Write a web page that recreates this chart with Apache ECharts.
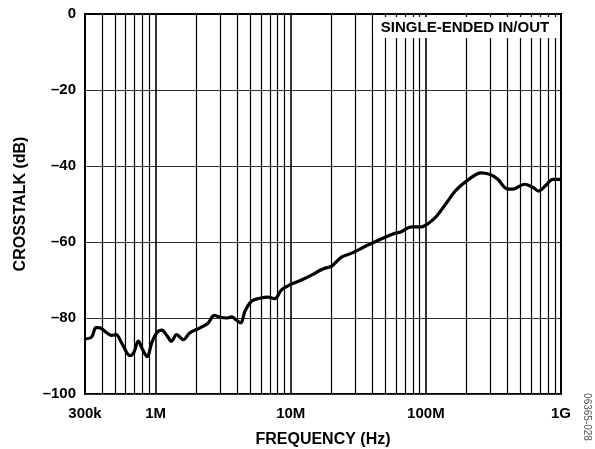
<!DOCTYPE html>
<html>
<head>
<meta charset="utf-8">
<script src="https://cdn.jsdelivr.net/npm/echarts@6/dist/echarts.min.js"></script>
<style>
html, body { margin: 0; padding: 0; background: #fff; }
#chart { width: 595px; height: 449px; }
</style>
</head>
<body>
<div id="chart"></div>
<script>
// frequency (Hz) and crosstalk (dB)
var freqs = [3.0e5, 3.36e5, 3.62e5, 3.88e5, 4.35e5, 4.73e5, 5.09e5, 5.61e5, 6.46e5, 6.91e5,
    7.44e5, 8.01e5, 8.67e5, 9.34e5, 1.02e6, 1.11e6, 1.21e6, 1.31e6, 1.43e6, 1.6e6,
    1.79e6, 2.13e6, 2.45e6, 2.71e6, 2.99e6, 3.35e6, 3.65e6, 3.97e6, 4.27e6, 4.57e6,
    5.12e6, 5.9e6, 6.8e6, 7.62e6, 8.54e6, 9.83e6, 1.165e7, 1.462e7, 1.638e7, 1.784e7,
    1.999e7, 2.37e7, 2.887e7, 3.627e7, 4.548e7, 5.704e7, 6.58e7, 7.8e7, 9.25e7, 1.035e8,
    1.194e8, 1.415e8, 1.678e8, 2.044e8, 2.567e8, 2.957e8, 3.406e8, 3.929e8, 4.397e8, 5.364e8,
    6.179e8, 6.843e8, 7.761e8, 8.683e8, 1.0e9];
var crosstalk = [-85.5, -85.0, -82.5, -82.6, -83.9, -84.6, -84.4, -86.6, -89.9, -89.0,
    -86.1, -88.3, -90.2, -86.6, -83.9, -83.2, -84.6, -86.1, -84.4, -85.7,
    -83.9, -82.6, -81.3, -79.3, -79.8, -80.0, -79.7, -80.6, -81.3, -78.3,
    -75.6, -74.8, -74.5, -74.9, -72.6, -71.3, -70.2, -68.5, -67.5, -66.9,
    -66.4, -64.0, -62.8, -61.0, -59.4, -57.9, -57.3, -56.0, -56.0, -55.2,
    -53.3, -49.8, -46.3, -43.7, -41.8, -42.2, -43.5, -45.9, -46.1, -44.8,
    -45.6, -46.6, -45.0, -43.5, -43.5];
var decades = [1e6, 1e7, 1e8];
var minorGrid = [4e5, 5e5, 6e5, 7e5, 8e5, 9e5,
    2e6, 3e6, 4e6, 5e6, 6e6, 7e6, 8e6, 9e6,
    2e7, 3e7, 4e7, 5e7, 6e7, 7e7, 8e7, 9e7,
    2e8, 3e8, 4e8, 5e8, 6e8, 7e8, 8e8, 9e8];
var xTickLabels = { 3e5: '300k', 1e6: '1M', 1e7: '10M', 1e8: '100M', 1e9: '1G' };

var chart = echarts.init(document.getElementById('chart'));
var font = 'Liberation Sans, Arial, sans-serif';

var gridLines = [];
minorGrid.forEach(function(f) {
    gridLines.push({ xAxis: f, lineStyle: { color: '#000', width: 1.2, type: 'solid' } });
});
decades.forEach(function(f) {
    gridLines.push({ xAxis: f, lineStyle: { color: '#000', width: 1.6, type: 'solid' } });
});

var option = {
    animation: false,
    grid: {
        left: 85, right: 34, top: 14, bottom: 55,
        outerBoundsMode: 'none',
        containLabel: false,
        show: true, borderColor: '#000', borderWidth: 2
    },
    xAxis: {
        type: 'log',
        logBase: 10,
        min: 3e5,
        max: 1e9,
        name: 'FREQUENCY (Hz)',
        nameLocation: 'middle',
        nameGap: 38,
        nameTextStyle: { fontFamily: font, fontWeight: 'bold', fontSize: 16, color: '#000' },
        axisLine: { lineStyle: { color: '#000', width: 2 } },
        axisTick: { show: false },
        splitLine: { show: false },
        axisLabel: {
            margin: 12,
            fontFamily: font, fontWeight: 'bold', fontSize: 15, color: '#000',
            showMinLabel: true, showMaxLabel: true,
            formatter: function(v) {
                for (var k in xTickLabels) {
                    if (Math.abs(v / Number(k) - 1) < 1e-3) return xTickLabels[k];
                }
                return '';
            }
        }
    },
    yAxis: {
        type: 'value',
        min: -100,
        max: 0,
        interval: 20,
        name: 'CROSSTALK (dB)',
        nameLocation: 'middle',
        nameGap: 56,
        nameTextStyle: { fontFamily: font, fontWeight: 'bold', fontSize: 16, color: '#000' },
        axisLine: { show: true, lineStyle: { color: '#000', width: 2 } },
        axisTick: { show: false },
        splitLine: { show: true, lineStyle: { color: '#333', width: 1.2 } },
        axisLabel: {
            margin: 9,
            fontFamily: font, fontWeight: 'bold', fontSize: 15, color: '#000',
            formatter: function(v) { return v === 0 ? '0' : '\u2013' + Math.abs(v); }
        }
    },
    series: [{
        type: 'line',
        data: freqs.map(function(f, i) { return [f, crosstalk[i]]; }),
        showSymbol: false,
        smooth: 0.35,
        lineStyle: { color: '#000', width: 3.2 },
        z: 5,
        markLine: {
            silent: true,
            symbol: ['none', 'none'],
            label: { show: false },
            data: gridLines,
            z: 1
        }
    }],
    graphic: [
        {
            type: 'rect', z: 100,
            shape: { x: 373, y: 17, width: 186, height: 21 },
            style: { fill: '#fff' }
        },
        {
            type: 'text', z: 101,
            x: 465, y: 28,
            style: {
                text: 'SINGLE-ENDED IN/OUT',
                fill: '#000',
                font: 'bold 15px ' + font,
                align: 'center', verticalAlign: 'middle'
            }
        },
        {
            type: 'text', z: 101,
            x: 587, y: 417,
            rotation: -Math.PI / 2,
            style: {
                text: '06365-028',
                fill: '#555',
                font: '10px ' + font,
                align: 'center', verticalAlign: 'middle'
            }
        }
    ]
};
chart.setOption(option);
</script>
</body>
</html>
